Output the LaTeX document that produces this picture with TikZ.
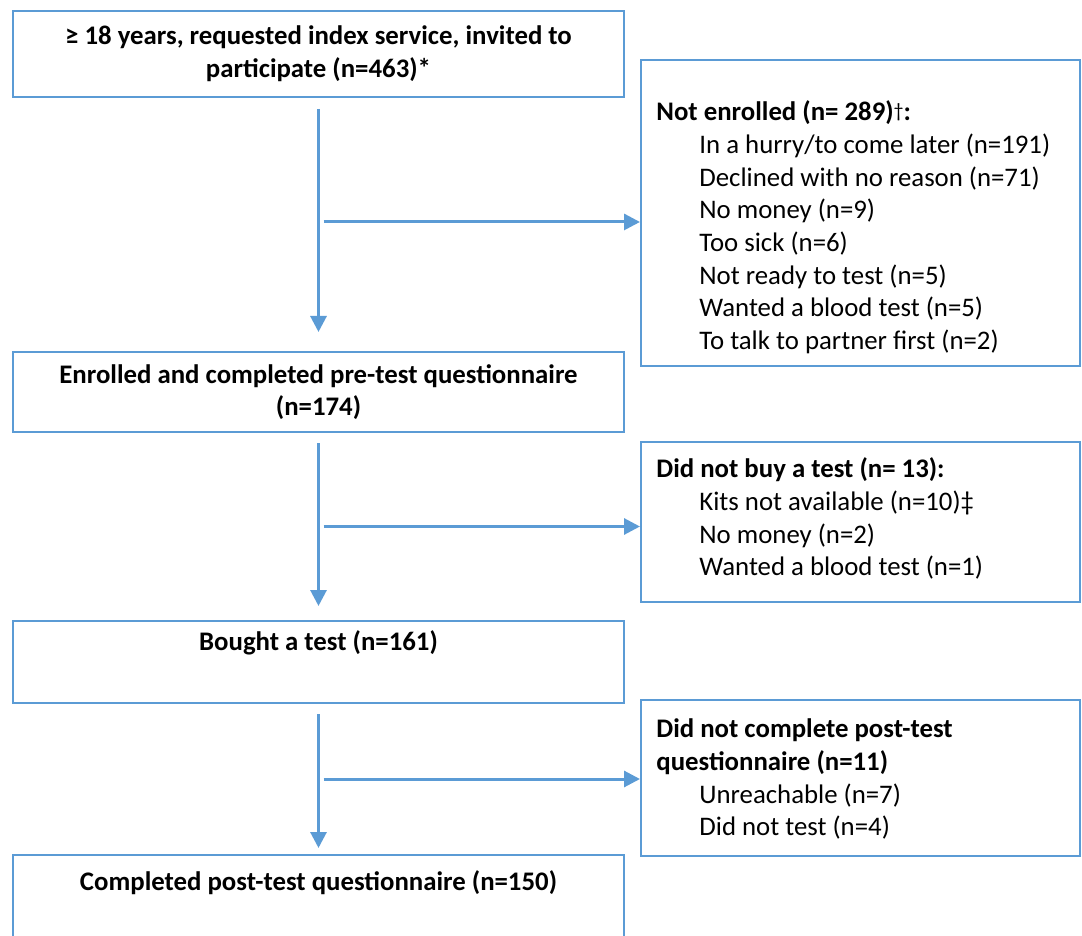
\documentclass[tikz,border=0pt]{standalone}
\usepackage{fontspec}
\setmainfont{Carlito}
\usetikzlibrary{arrows.meta,calc,positioning}
\definecolor{flowblue}{HTML}{5B9BD5}

\begin{document}
\begin{tikzpicture}[x=1pt,y=1pt,
  stagebox/.style={rectangle,draw=flowblue,line width=1pt,minimum width=305.5pt,align=center,font=\fontsize{13.4}{16.35}\selectfont\bfseries},
  sidebox/.style={rectangle,draw=flowblue,line width=1pt,minimum width=219.5pt},
  sidetext/.style={align=left,inner sep=0pt,font=\fontsize{13.4}{16.35}\selectfont},
  flow/.style={draw=flowblue,line width=1.5pt,-{Triangle[length=8pt,width=8pt]}}]
\useasboundingbox (0,0) rectangle (541,-468);
\clip (0,0) rectangle (541,-468);
% main stages
\node[stagebox,minimum height=43pt] (invited) at (159.25,-27) {≥ 18 years, requested index service, invited to\\participate (n=463)*};
\node[stagebox,minimum height=40pt] (enrolled) at (159.25,-196) {Enrolled and completed pre-test questionnaire\\(n=174)};
\node[stagebox,minimum height=41pt] (bought) at (159.25,-331) {Bought a test (n=161)\\\strut};
\node[stagebox,minimum height=46.5pt] (completed) at (159.25,-450.75) {Completed post-test questionnaire (n=150)\\\strut};
% exclusions
\node[sidebox,minimum height=153pt] (notenrolled) at (430.25,-106.5) {};
\node[sidebox,minimum height=80pt] (notbought) at (430.25,-261) {};
\node[sidebox,minimum height=78pt] (notcompleted) at (430.25,-389) {};
\node[sidetext,below right=20.75pt and 8pt of notenrolled.north west] (notenrolledtext) {\textbf{Not enrolled (n= 289)}\raisebox{1.5pt}{\fontsize{10}{10}\selectfont †}\textbf{:}\\
  \hspace*{21.5pt}In a hurry/to come later (n=191)\\
  \hspace*{21.5pt}Declined with no reason (n=71)\\
  \hspace*{21.5pt}No money (n=9)\\
  \hspace*{21.5pt}Too sick (n=6)\\
  \hspace*{21.5pt}Not ready to test (n=5)\\
  \hspace*{21.5pt}Wanted a blood test (n=5)\\
  \hspace*{21.5pt}To talk to partner first (n=2)};
\node[sidetext,below right=8.25pt and 8pt of notbought.north west] (notboughttext) {\textbf{Did not buy a test (n= 13):}\\
  \hspace*{21.5pt}Kits not available (n=10)‡\\
  \hspace*{21.5pt}No money (n=2)\\
  \hspace*{21.5pt}Wanted a blood test (n=1)};
\node[sidetext,below right=9.75pt and 8pt of notcompleted.north west] (notcompletedtext) {\textbf{Did not complete post-test}\\
  \textbf{questionnaire (n=11)}\\
  \hspace*{21.5pt}Unreachable (n=7)\\
  \hspace*{21.5pt}Did not test (n=4)};
% flow
\coordinate (split1) at ($(invited.south)!0.49!(enrolled.north)+(2.5pt,0)$);
\coordinate (split2) at ($(enrolled.south)!0.5!(bought.north)+(2.5pt,0)$);
\coordinate (split3) at ($(bought.south)!0.5!(completed.north)+(2.5pt,0)$);
\draw[flow,shorten <=5.5pt,shorten >=9.5pt] (invited.south) -- (enrolled.north);
\draw[flow,shorten <=5pt,shorten >=7pt] (enrolled.south) -- (bought.north);
\draw[flow,shorten <=5pt,shorten >=3pt] (bought.south) -- (completed.north);
\draw[flow] (split1) -- (split1 -| notenrolled.west);
\draw[flow] (split2) -- (split2 -| notbought.west);
\draw[flow] (split3) -- (split3 -| notcompleted.west);
\end{tikzpicture}
\end{document}
